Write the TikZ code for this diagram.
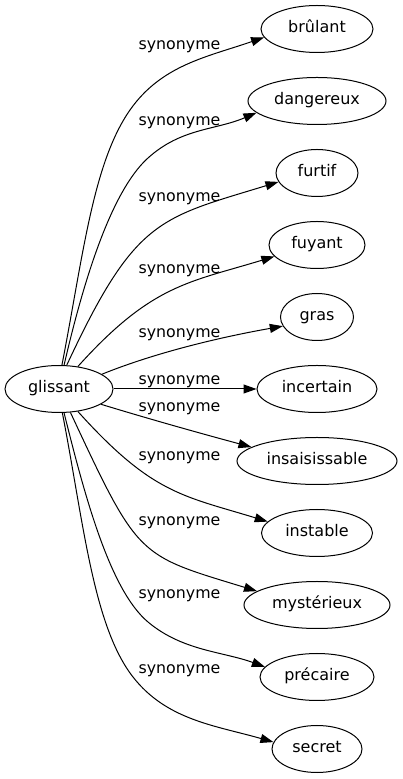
\documentclass[tikz,border=0pt]{standalone}
\usepackage{fontspec}
\setmainfont{DejaVu Sans}
\usetikzlibrary{shapes.geometric,arrows.meta}
\begin{document}
\begin{tikzpicture}[x=1pt,y=1pt,
  word/.style={ellipse,draw,line width=1pt,inner sep=0pt,minimum height=47pt,
    text height=11pt,text depth=3pt,font=\fontsize{16}{18}\selectfont},
  lab/.style={anchor=base,inner sep=0pt,font=\fontsize{15.8}{18}\selectfont},
  edge/.style={line width=1pt,-{Triangle[length=13pt,width=9pt]}}]
\useasboundingbox (0,0) rectangle (402,779);
\node[word,minimum width=108pt] (glissant) at (59,390) {glissant};
\node[word,minimum width=112pt] (brulant) at (317,750) {brûlant};
\node[word,minimum width=138pt] (dangereux) at (317,678) {dangereux};
\node[word,minimum width=82pt] (furtif) at (317,606) {furtif};
\node[word,minimum width=96pt] (fuyant) at (317,534) {fuyant};
\node[word,minimum width=73pt] (gras) at (317,462) {gras};
\node[word,minimum width=120pt] (incertain) at (317,390) {incertain};
\node[word,minimum width=160pt] (insaisissable) at (317,318) {insaisissable};
\node[word,minimum width=111pt] (instable) at (317,246) {instable};
\node[word,minimum width=146pt] (mysterieux) at (317,174) {mystérieux};
\node[word,minimum width=114pt] (precaire) at (317,102) {précaire};
\node[word,minimum width=90pt] (secret) at (317,30) {secret};

\node[lab] (l1) at (179.5,729) {synonyme};
\node[lab] (l2) at (179.5,653) {synonyme};
\node[lab] (l3) at (179.5,577) {synonyme};
\node[lab] (l4) at (179.5,505) {synonyme};
\node[lab] (l5) at (179.5,441) {synonyme};
\node[lab] (l6) at (179.5,394) {synonyme};
\node[lab] (l7) at (179.5,367) {synonyme};
\node[lab] (l8) at (179.5,318) {synonyme};
\node[lab] (l9) at (179.5,253) {synonyme};
\node[lab] (l10) at (179.5,180) {synonyme};
\node[lab] (l11) at (179.5,105) {synonyme};

\coordinate (w1) at (130,669);
\coordinate (w2) at (148,621);
\coordinate (w10) at (148,157);
\coordinate (w11) at (133,102);

\draw[edge] (glissant.83) to[out=79,in=-125,out distance=110pt,in distance=65pt] (w1)
  to[out=55,in=199,out distance=55pt,in distance=60pt] (brulant.189);
\draw[edge] (glissant.78) to[out=77,in=-138,out distance=85pt,in distance=50pt] (w2)
  to[out=42,in=203,out distance=45pt,in distance=45pt] (dangereux.191);
\draw[edge] (glissant.72) to[out=65,in=197,out distance=162pt,in distance=125pt] (furtif.193);
\draw[edge] (glissant.50) to[out=48,in=197,out distance=111pt,in distance=89pt] (fuyant.195);
\draw[edge] (glissant.19) to[out=22,in=190,out distance=60pt,in distance=60pt] (gras.195);
\draw[edge] (glissant.east) -- (incertain.west);
\draw[edge] (glissant.-20) to[out=-17,in=165,out distance=50pt,in distance=50pt] (insaisissable.168.5);
\draw[edge] (glissant.-50) to[out=-48,in=163,out distance=111pt,in distance=89pt] (instable.167);
\draw[edge] (glissant.-64) to[out=-65,in=163,out distance=162pt,in distance=125pt] (mysterieux.167);
\draw[edge] (glissant.-78) to[out=-76,in=140,out distance=85pt,in distance=50pt] (w10)
  to[out=-40,in=160,out distance=45pt,in distance=45pt] (precaire.169);
\draw[edge] (glissant.-82) to[out=-79,in=128,out distance=110pt,in distance=65pt] (w11)
  to[out=-52,in=164,out distance=55pt,in distance=60pt] (secret.171);
\end{tikzpicture}
\end{document}
